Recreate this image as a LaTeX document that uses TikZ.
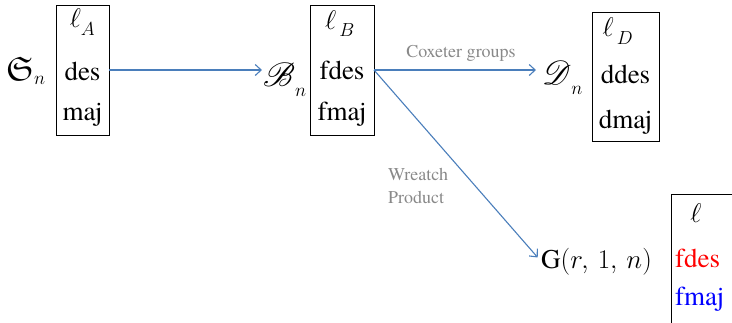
\documentclass[tikz,border=0pt]{standalone}
\usepackage{fix-cm}
\usepackage{amssymb}
\usepackage{mathrsfs}
\usepackage{fontspec}
\newfontfamily\tnr{texgyretermes-regular.otf}
\usetikzlibrary{arrows.meta}
\definecolor{arrblue}{RGB}{74,126,187}
\definecolor{lblgray}{RGB}{137,137,137}
\newcommand{\dropsub}[3]{#1_{\lower#3\hbox{$\scriptstyle #2$}}}
\begin{document}
\begin{tikzpicture}[x=1pt,y=-1pt,
  box/.style={draw, line width=1pt, inner sep=0pt, outer sep=0pt},
  big/.style={font=\tnr\fontsize{27}{30}\selectfont, inner sep=0pt},
  arr/.style={draw=arrblue, line width=1.1pt, -{Straight Barb[length=6pt,width=11pt]}},
  lbl/.style={text=lblgray, font=\tnr\fontsize{18}{23}\selectfont, inner sep=0pt}]
\clip (0,0) rectangle (732,322);
% S_n
\node[big, anchor=base west] (Sn) at (6,80) {$\scalebox{1.25}{$\mathfrak{S}$}_{n}$};
\node[box, minimum width=53pt, minimum height=130pt] (boxA) at (82.5,70) {};
\node[big] (lA) at (82.5,22) {$\dropsub{\ell}{A}{4pt}$};
\node[big, anchor=base] (desA) at (82.5,80) {des};
\node[big, anchor=base] (majA) at (82.5,120) {maj};
% B_n
\node[big, anchor=base west] (Bn) at (263,86) {$\dropsub{\scalebox{1.35}{$\mathscr{B}$}}{n}{6pt}$};
\node[box, minimum width=64pt, minimum height=130pt] (boxB) at (342,70) {};
\node[big] (lB) at (340,24) {$\dropsub{\ell}{\,B}{3pt}$};
\node[big, anchor=base] (fdesB) at (342,79) {fdes};
\node[big, anchor=base] (fmajB) at (342,120) {fmaj};
% D_n
\node[big, anchor=base west] (Dn) at (542,84) {$\dropsub{\scalebox{1.35}{$\mathscr{D}$}}{n}{6pt}$};
\node[box, minimum width=67pt, minimum height=129pt] (boxD) at (625.5,76.5) {};
\node[big] (lD) at (618,31) {$\dropsub{\ell}{\,D}{4pt}$};
\node[big, anchor=base] (ddesD) at (625.5,83) {ddes};
\node[big, anchor=base] (dmajD) at (625.5,128) {dmaj};
% G(r,1,n)
\node[big, anchor=base west] (G) at (541,268) {G$(r,\,1,\,n)$};
\node[box, anchor=north west, minimum width=90pt, minimum height=150pt] (boxG) at (671,194) {};
\node[big] (lG) at (696,213) {$\ell$};
\node[big, anchor=base west, text=red] (fdesG) at (675,267) {fdes};
\node[big, anchor=base west, text=blue] (fmajG) at (675,305) {fmaj};
% labels
\node[lbl, anchor=base] (cox) at (461,57) {Coxeter groups};
\node[lbl, align=left, anchor=north west] (wp) at (388,168) {Wreatch\\Product};
% arrows
\draw[arr, shorten >=1pt] (boxA.east) -- (boxA.east -| Bn.west);
\draw[arr, shorten >=6pt] (boxB.east) -- (boxB.east -| Dn.west);
\draw[arr, shorten >=5pt] (boxB.east) -- (G.west);
\end{tikzpicture}
\end{document}
